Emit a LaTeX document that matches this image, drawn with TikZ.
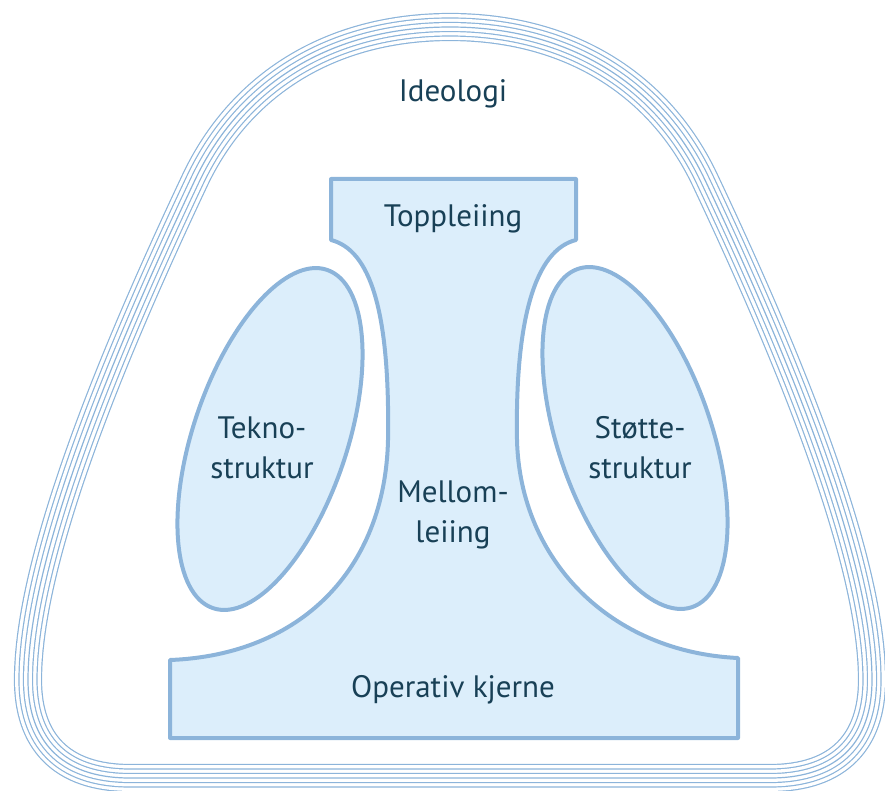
\documentclass[tikz,border=0pt]{standalone}
\usepackage{fontspec}
\setmainfont{PT Sans}
\usepackage{tikz}
\usetikzlibrary{shapes.geometric}
\definecolor{partline}{RGB}{140,180,218}
\definecolor{partfill}{RGB}{220,238,251}
\definecolor{parttext}{RGB}{24,64,86}

% middle line of the ideology ring, in pixel units
\newcommand{\ringpath}{(450,778) -- (130,778)
  .. controls (60,778) and (28,740) .. (28,680)
  .. controls (28,560) and (110,360) .. (195,180)
  .. controls (240,85) and (330,27) .. (450,27)
  .. controls (570,27) and (660,85) .. (705,180)
  .. controls (790,360) and (872,560) .. (872,680)
  .. controls (872,740) and (840,778) .. (770,778) -- cycle}

\begin{document}
\begin{tikzpicture}[
    x=1pt, y=-1pt,
    part/.style={draw=partline, line width=4pt, fill=partfill, line join=round},
    blob/.style={ellipse, part, inner sep=0pt, minimum width=357pt, minimum height=154pt},
    txt/.style={font=\fontsize{31}{40}\selectfont, text=parttext, align=center, inner sep=0pt}
]
\useasboundingbox (0,0) rectangle (885,791);

% ring of thin lines
\foreach \d in {13.5, 9, 4.5} {
  \draw[partline, line width={(2*\d+1.2)*1pt}, line join=round] \ringpath;
  \draw[white, line width={(2*\d-1.2)*1pt}, line join=round] \ringpath;
}
\draw[partline, line width=1.2pt, line join=round] \ringpath;

% strategic apex, middle line and operating core
\draw[part] (331,179) -- (576,179) -- (576,240)
  .. controls (535,250) and (515,320) .. (517,440)
  .. controls (520,560) and (610,652) .. (738,658)
  -- (738,738) -- (170,738) -- (170,660)
  .. controls (300,655) and (385,570) .. (388,440)
  .. controls (390,310) and (370,250) .. (331,240) -- cycle;

\node[blob, rotate=71.4] (teknoblob) at (270,439) {};
\node[blob, rotate=-71.4] (stotteblob) at (635,438) {};

\node[txt, anchor=base] (ideologi) at (453,102) {Ideologi};
\node[txt, anchor=base] (topp) at (453,227) {Toppleiing};
\node[txt] (tekno) at (262,448) {Tekno-\\struktur};
\node[txt] (stotte) at (640,448) {Støtte-\\struktur};
\node[txt] (mellom) at (453,515) {Mellom-\\leiing};
\node[txt, anchor=base] (kjerne) at (453,697) {Operativ kjerne};

\end{tikzpicture}
\end{document}
